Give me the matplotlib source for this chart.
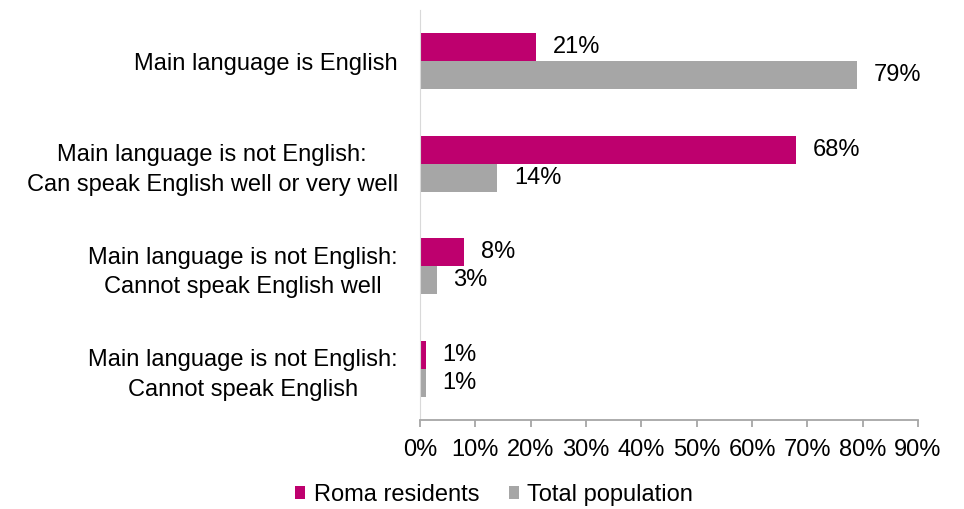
import matplotlib.pyplot as plt
import numpy as np
from matplotlib.ticker import PercentFormatter

plt.rcParams['font.family'] = ['Liberation Sans', 'DejaVu Sans']

categories = ['Main language is English',
              'Main language is not English:\nCan speak English well or very well',
              'Main language is not English:\nCannot speak English well',
              'Main language is not English:\nCannot speak English']
roma = [21, 68, 8, 1]
total = [79, 14, 3, 1]
series_names = ['Roma residents', 'Total population']
colors = ['#BE006E', '#A6A6A6']
fs = 17

fig = plt.figure(figsize=(9.64, 5.09), dpi=100)
ax = fig.add_axes([420 / 964, 89 / 509, 498 / 964, 410 / 509])

pos = np.arange(len(categories))
h = 0.272
b1 = ax.barh(pos - h / 2, roma, height=h, color=colors[0], label=series_names[0])
b2 = ax.barh(pos + h / 2, total, height=h, color=colors[1], label=series_names[1])

for bars, vals in ((b1, roma), (b2, total)):
    for bar, v in zip(bars, vals):
        ax.annotate('%d%%' % v, (v, bar.get_y() + bar.get_height() / 2),
                    xytext=(12, 0), textcoords='offset points',
                    va='center', ha='left', fontsize=fs)

ax.set_xlim(0, 90)
ax.set_ylim(len(categories) - 0.5, -0.5)
ax.set_xticks(np.arange(0, 91, 10))
ax.xaxis.set_major_formatter(PercentFormatter(decimals=0))
ax.set_yticks(pos)
ax.set_yticklabels(categories, multialignment='center', linespacing=1.45)
ax.tick_params(axis='y', length=0, pad=16, labelsize=fs)
ax.tick_params(axis='x', direction='out', length=5, width=1.3, color='#A6A6A6',
               pad=9, labelsize=fs)

for side in ('top', 'right'):
    ax.spines[side].set_visible(False)
ax.spines['left'].set_color('#D9D9D9')
ax.spines['bottom'].set_color('#A6A6A6')
ax.spines['bottom'].set_linewidth(1.3)

fig.legend(handles=[b1, b2], labels=series_names, loc='center',
           bbox_to_anchor=(494 / 964, 1 - 495 / 509), ncol=2, frameon=False,
           fontsize=fs, handlelength=0.45, handleheight=0.45,
           handletextpad=0.35, columnspacing=1.25)

fig.savefig('out.png', dpi=100)
